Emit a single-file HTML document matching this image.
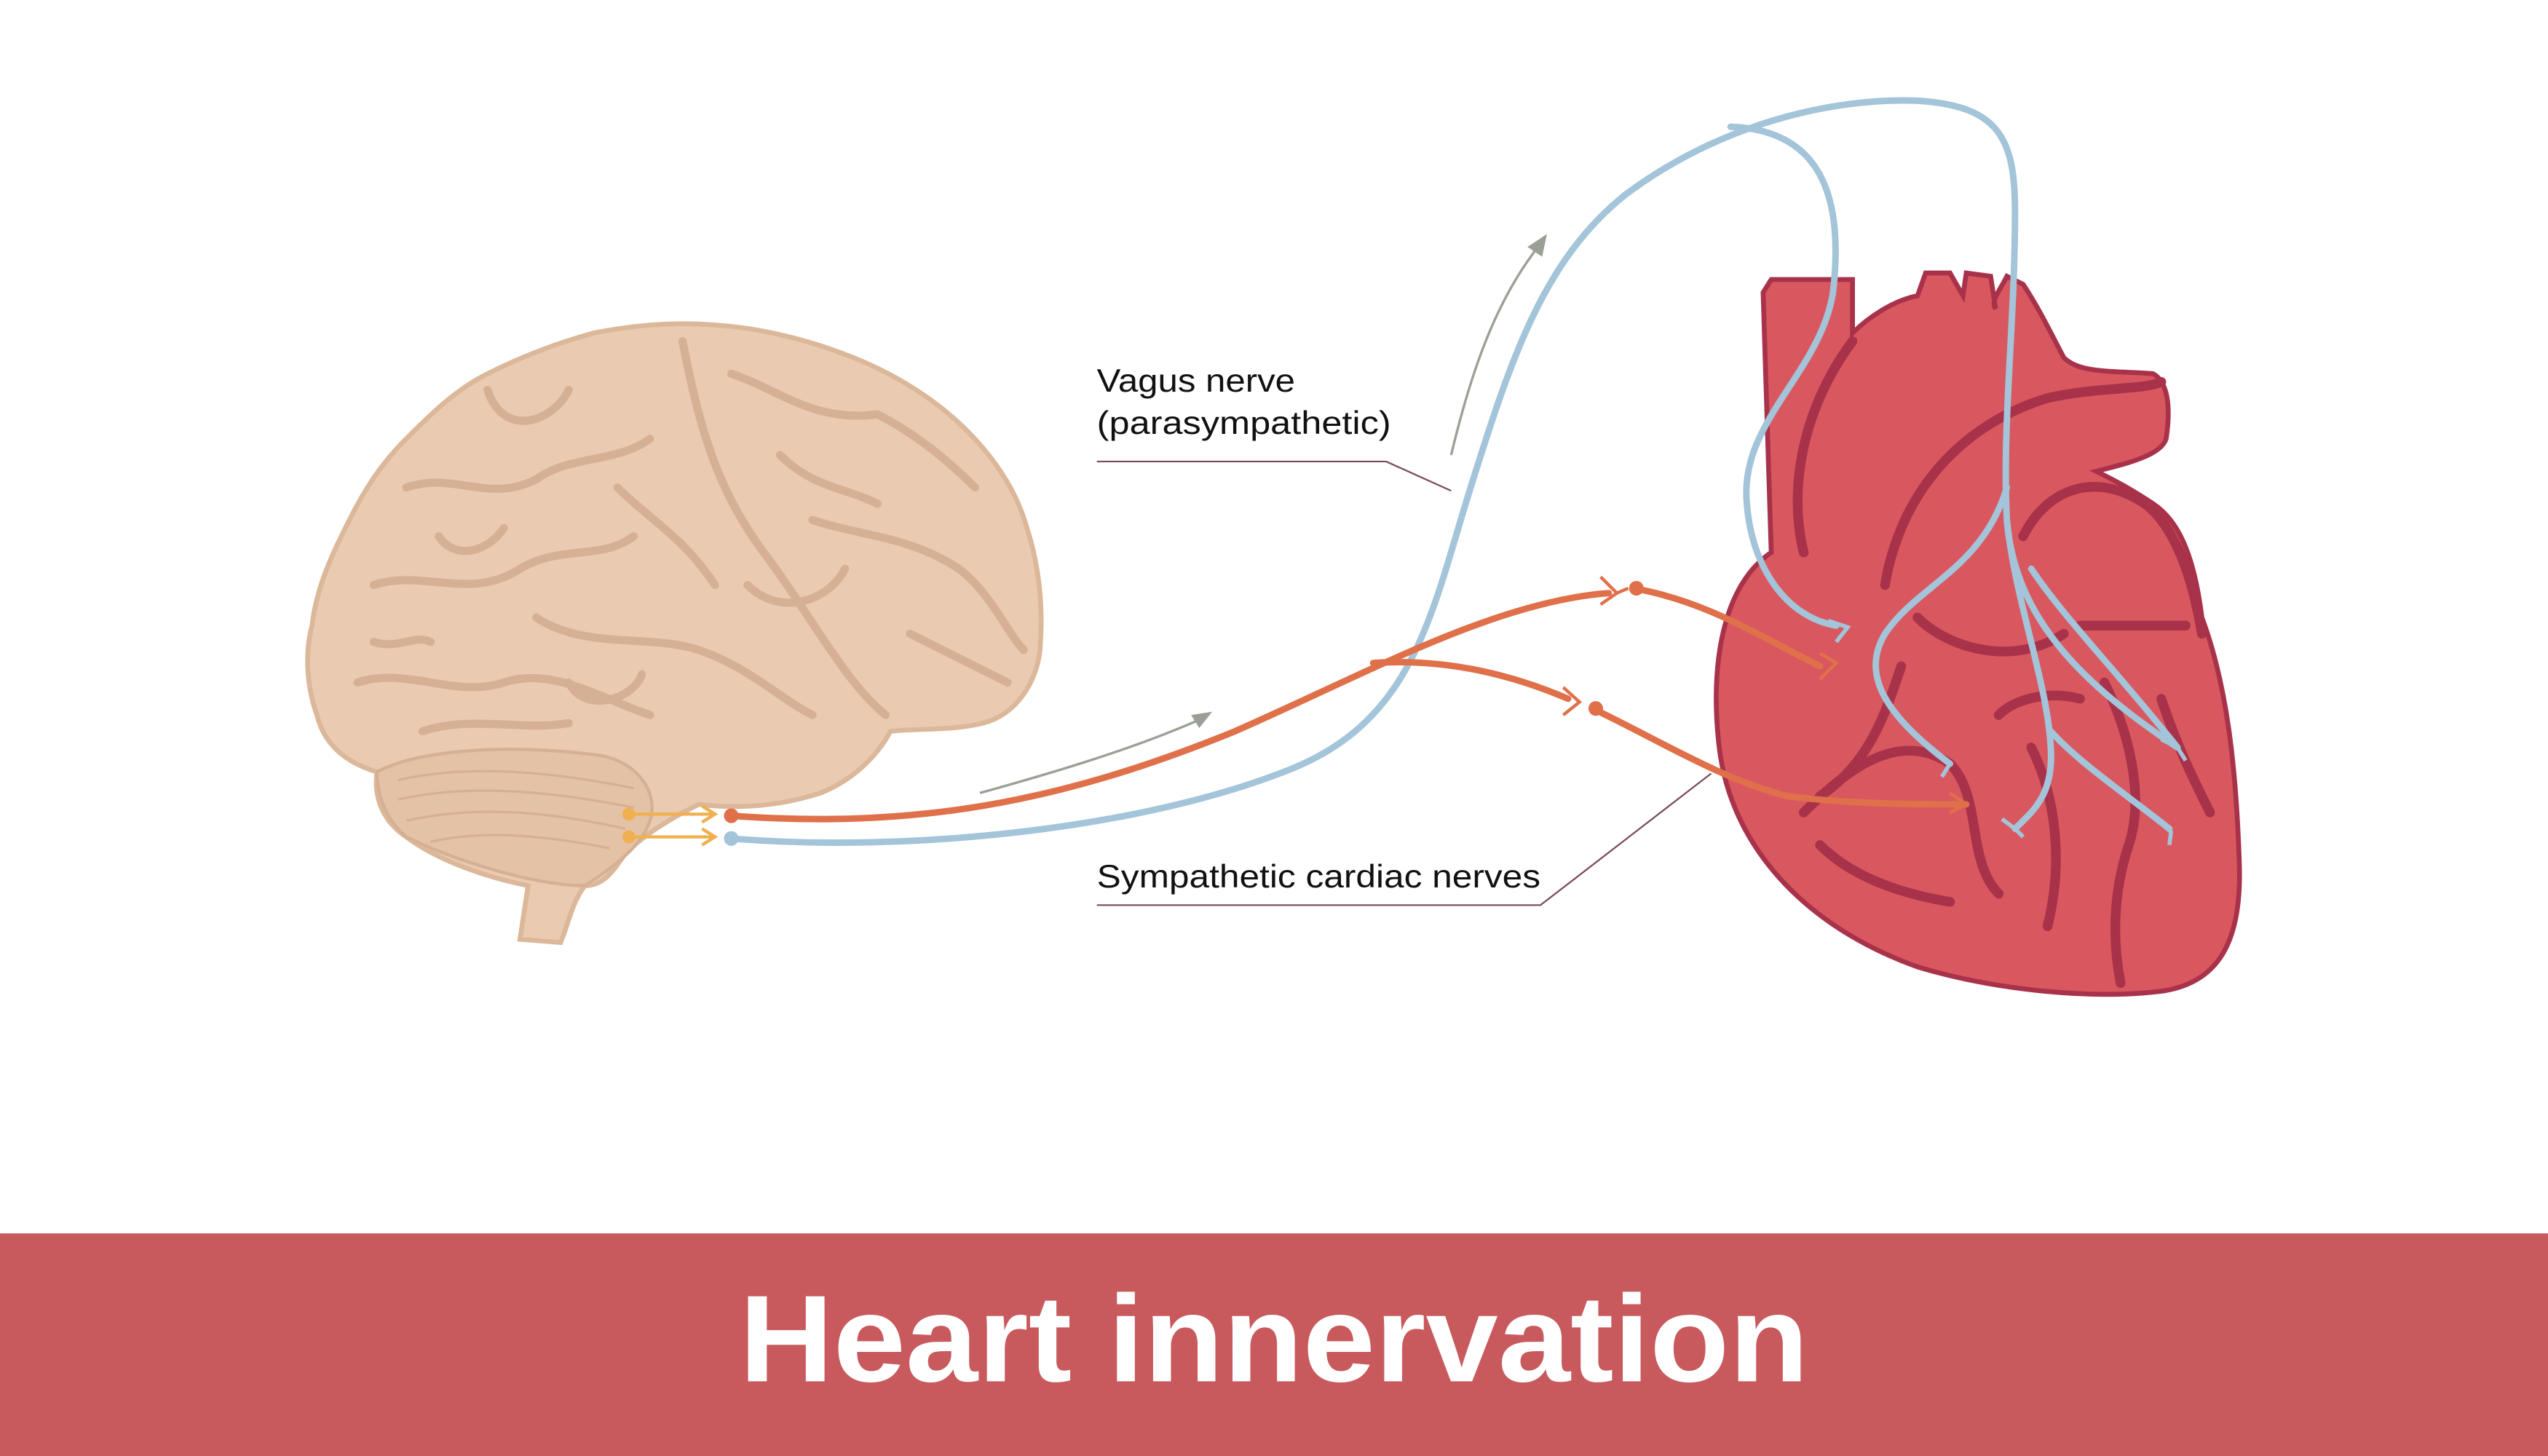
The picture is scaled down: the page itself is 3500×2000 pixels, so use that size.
<!DOCTYPE html>
<html><head><meta charset="utf-8"><style>
html,body{margin:0;padding:0;background:#fff;}
svg{display:block;}
</style></head><body>
<svg width="3500" height="2000" viewBox="0 0 1568 896" xmlns="http://www.w3.org/2000/svg">
<rect width="1568" height="896" fill="#fff"/>
<!-- Brain -->
<path d="M320 578 L325 545 C300 540 270 530 250 515 C235 505 230 490 232 475 C215 470 200 460 195 440 C188 420 188 400 192 385 C195 360 205 340 215 320 C225 300 235 285 250 270 C265 255 280 240 300 230 C320 220 340 212 365 205 C390 200 415 198 440 200 C470 202 500 210 525 220 C550 230 575 245 595 265 C610 280 625 300 632 325 C640 350 642 375 640 400 C638 420 625 440 605 445 C585 450 565 448 548 450 C540 465 525 480 505 488 C480 496 455 498 430 495 C410 505 395 515 385 525 C378 535 372 545 360 545 C352 555 350 568 345 580 Z" fill="#eacab0" stroke="#dcb89a" stroke-width="3"/>
<path d="M232 475 C260 460 320 458 370 465 C395 470 405 490 400 505 C395 520 380 532 360 545 C330 545 280 530 250 515 C238 505 232 490 232 475 Z" fill="#e4c2a6" stroke="#d6b094" stroke-width="2"/>
<g fill="none" stroke="#d6b094" stroke-width="5" stroke-linecap="round">
<path d="M250 300 C280 290 300 310 330 295 C350 280 380 285 400 270"/>
<path d="M230 360 C260 350 290 370 320 350 C345 335 370 345 390 330"/>
<path d="M300 240 C310 270 340 260 350 240"/>
<path d="M420 210 C430 260 440 300 470 340 C500 380 520 420 545 440"/>
<path d="M450 230 C480 240 500 260 540 255 C560 265 580 280 600 300"/>
<path d="M330 380 C360 400 400 390 430 400 C460 410 480 430 500 440"/>
<path d="M220 420 C250 410 280 430 310 420 C340 410 370 430 400 440"/>
<path d="M500 320 C530 330 560 330 590 350 C610 365 620 390 630 400"/>
<path d="M260 450 C290 440 320 450 350 445"/>
<path d="M480 280 C500 300 520 300 540 310"/>
<path d="M380 300 C400 320 420 330 440 360"/>
<path d="M560 390 C580 400 600 410 620 420"/>
<path d="M270 330 C280 345 300 340 310 325"/>
<path d="M350 420 C360 440 390 430 395 415"/>
<path d="M460 360 C480 380 510 370 520 350"/>
<path d="M230 395 C245 400 255 390 265 395"/>
</g>
<g fill="none" stroke="#d6b094" stroke-width="1.5">
<path d="M245 480 C290 470 340 475 390 485"/>
<path d="M245 492 C290 482 340 487 390 497"/>
<path d="M250 505 C295 495 340 500 385 510"/>
<path d="M265 518 C300 510 340 515 375 522"/>
</g>
<!-- nerve endings at brain -->
<g stroke="#f0b050" stroke-width="2" fill="none">
<path d="M387 501 L440 501 M387 515 L440 515"/>
<path d="M432 496 L440 501 L432 506 M432 510 L440 515 L432 520"/>
</g>
<circle cx="387" cy="501" r="4" fill="#f0b050"/><circle cx="387" cy="515" r="4" fill="#f0b050"/>
<!-- Heart -->
<path d="M1090 172 L1085 180 L1090 340 C1060 360 1052 410 1058 460 C1065 520 1110 570 1180 595 C1230 610 1290 615 1330 610 C1365 605 1380 580 1378 530 C1376 470 1370 420 1355 380 C1350 340 1340 320 1325 310 C1310 300 1300 295 1290 290 C1310 285 1330 280 1333 270 C1336 250 1334 235 1325 230 C1300 228 1280 230 1270 220 C1262 205 1255 190 1245 175 L1235 170 C1230 180 1225 185 1228 190 L1225 170 L1210 168 L1208 182 L1200 168 L1185 168 L1180 182 C1165 185 1150 195 1140 205 L1140 172 Z" fill="#d9585f" stroke="#a8324a" stroke-width="3"/>
<g fill="none" stroke="#a8324a" stroke-width="6" stroke-linecap="round">
<path d="M1110 340 C1100 300 1110 250 1140 210"/>
<path d="M1160 360 C1170 300 1210 260 1260 245 C1290 238 1320 240 1330 235"/>
<path d="M1245 330 C1260 300 1290 290 1320 310 C1340 325 1350 360 1355 390"/>
<path d="M1280 385 L1345 385"/>
<path d="M1180 380 C1200 400 1240 410 1270 390"/>
<path d="M1110 500 C1140 470 1170 450 1200 470 C1220 490 1210 530 1230 550"/>
<path d="M1250 460 C1265 490 1270 530 1260 570"/>
<path d="M1295 420 C1310 450 1320 490 1310 520 C1300 550 1300 580 1305 605"/>
<path d="M1170 410 C1160 440 1150 470 1120 490"/>
<path d="M1230 440 C1240 430 1260 425 1280 430"/>
<path d="M1120 520 C1140 540 1170 550 1200 555"/>
<path d="M1330 430 C1340 460 1350 480 1360 500"/>
</g>
<!-- Vagus (blue) -->
<g fill="none" stroke="#a3c4d9" stroke-width="4" stroke-linecap="round">
<path d="M450 516 C560 525 700 510 790 475 C870 445 880 380 905 300 C930 220 950 160 1000 120 C1060 75 1130 60 1180 62 C1230 65 1240 85 1240 130 C1240 200 1232 260 1235 320 C1240 380 1280 420 1340 460"/>
<path d="M1065 78 C1120 80 1135 120 1128 180 C1120 230 1070 260 1075 310 C1078 350 1100 380 1130 385"/>
<path d="M1235 320 C1240 370 1260 420 1262 460 C1264 490 1250 500 1240 510"/>
<path d="M1262 450 C1280 470 1310 490 1335 510"/>
<path d="M1235 300 C1220 350 1180 360 1160 390 C1145 415 1160 440 1200 470"/>
<path d="M1250 350 C1270 380 1300 410 1340 460"/>
</g>
<!-- Sympathetic (orange) -->
<g fill="none" stroke="#e0704a" stroke-width="4" stroke-linecap="round">
<path d="M450 502 C560 510 650 495 760 450 C840 415 920 370 990 365"/>
<path d="M1005 362 C1050 370 1080 390 1120 410"/>
<path d="M845 408 C890 405 930 415 965 430"/>
<path d="M980 436 C1020 455 1060 480 1100 490 C1140 495 1180 495 1210 495"/>
</g>
<circle cx="450" cy="502" r="4.5" fill="#e0704a"/><circle cx="450" cy="516" r="4.5" fill="#a3c4d9"/>
<circle cx="1007" cy="362" r="4.5" fill="#e0704a"/><circle cx="982" cy="436" r="4.5" fill="#e0704a"/>
<g fill="none" stroke="#e0704a" stroke-width="2">
<path d="M985 355 L995 365 L985 372 M995 365 L1002 362"/>
<path d="M962 423 L972 432 L962 440"/>
<path d="M1120 402 L1130 408 L1120 418"/>
<path d="M1200 488 L1210 495 L1200 500"/>
</g>
<g fill="none" stroke="#a3c4d9" stroke-width="2.5">
<path d="M1125 382 L1137 386 L1130 395"/>
<path d="M1190 462 L1200 470 L1195 478"/>
<path d="M1232 504 L1240 510 L1245 515"/>
<path d="M1328 505 L1336 512 L1335 520"/>
<path d="M1330 455 L1340 460 L1345 468"/>
</g>
<!-- arrows -->
<g fill="none" stroke="#9aa095" stroke-width="1.5">
<path d="M603 488 C650 475 700 460 740 442"/>
<path d="M893 280 C905 230 920 185 948 150"/>
</g>
<path d="M746 438 L733 440 L738 448 Z" fill="#9aa095"/>
<path d="M952 144 L940 152 L949 158 Z" fill="#9aa095"/>
<!-- labels -->
<g font-family="Liberation Sans, sans-serif" font-size="20" fill="#111">
<text x="675" y="241" textLength="122" lengthAdjust="spacingAndGlyphs">Vagus nerve</text>
<text x="675" y="267" textLength="181" lengthAdjust="spacingAndGlyphs">(parasympathetic)</text>
<text x="675" y="546" textLength="273" lengthAdjust="spacingAndGlyphs">Sympathetic cardiac nerves</text>
</g>
<g fill="none" stroke="#7a4a55" stroke-width="1">
<path d="M675 284 L853 284 L893 302"/>
<path d="M675 557 L948 557 L1053 476"/>
</g>
<!-- banner -->
<rect x="0" y="759" width="1568" height="137" fill="#c85a5e"/>
<text x="455" y="850" textLength="658" lengthAdjust="spacingAndGlyphs" font-family="Liberation Sans, sans-serif" font-weight="bold" font-size="76" fill="#fff">Heart innervation</text>
</svg>
</body></html>
